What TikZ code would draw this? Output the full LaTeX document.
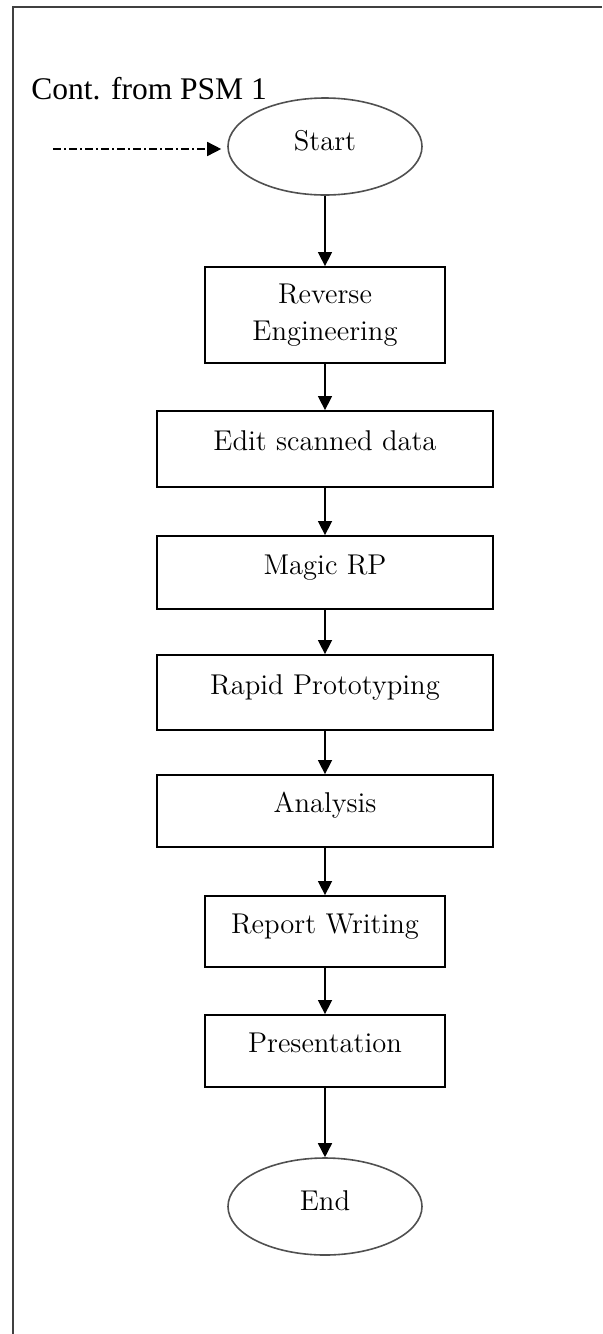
\documentclass[tikz,border=0pt]{standalone}
\usepackage{fontspec}
\newfontfamily\labelfont{Liberation Serif}
\usetikzlibrary{arrows.meta,positioning,shapes.geometric}
\definecolor{framegray}{RGB}{64,64,64}
\definecolor{rimgray}{RGB}{80,80,80}

\begin{document}
\begin{tikzpicture}[x=0.5pt,y=-0.5pt,
  box/.style={draw,line width=0.9pt,minimum width=120pt,minimum height=36.5pt,
              font=\fontsize{14.3}{18.5}\selectfont,text height=9.8pt,text depth=8pt},
  widebox/.style={box,minimum width=168pt},
  term/.style={ellipse,draw=rimgray,line width=0.8pt,inner sep=0pt,
               minimum width=97pt,minimum height=48.5pt,
               font=\fontsize{14.3}{18.5}\selectfont,text height=9.8pt,text depth=6pt},
  arr/.style={-{Triangle[length=7pt,width=7pt]},line width=0.75pt},
  dasharr/.style={arr,dash pattern=on 4pt off 1.5pt on 1pt off 1.5pt,shorten >=3pt}
]
  \useasboundingbox (0,0) rectangle (602,1334);
  % page frame, only top and left edges
  \draw[framegray,line width=1.4pt] (13,1334) -- (13,7) -- (602,7);

  \node[font=\labelfont\fontsize{15.75}{18}\selectfont,anchor=base west,inner sep=0pt]
        (contlbl) at (31,99) {Cont. from PSM 1};
  \coordinate (contin) at (53,149);

  \node[term] (start) at (325,146.5) {Start};
  \node[box,minimum height=48pt,align=center,text height=,text depth=]
        (reveng) at (325,315) {Reverse\\Engineering};
  \node[widebox,minimum height=38pt] (edit) at (325,449) {Edit scanned data};
  \node[widebox] (magic) at (325,572.5) {Magic RP};
  \node[widebox,minimum height=37.5pt] (rapid) at (325,692.5) {Rapid Prototyping};
  \node[widebox,minimum height=36pt] (analysis) at (325,811) {Analysis};
  \node[box,minimum height=35.5pt] (report) at (325,931.5) {Report Writing};
  \node[box,minimum height=36pt] (present) at (325,1051) {Presentation};
  \node[term] (finish) at (325,1206.5) {End};

  \draw[dasharr] (contin) -- (contin -| start.west);
  \draw[arr] (start) -- (reveng);
  \draw[arr] (reveng) -- (edit);
  \draw[arr] (edit) -- (magic);
  \draw[arr] (magic) -- (rapid);
  \draw[arr] (rapid) -- (analysis);
  \draw[arr] (analysis) -- (report);
  \draw[arr] (report) -- (present);
  \draw[arr] (present) -- (finish);
\end{tikzpicture}
\end{document}
